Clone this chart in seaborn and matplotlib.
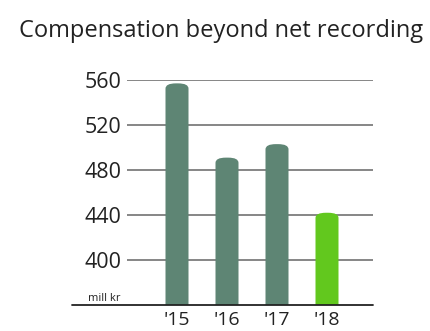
import matplotlib
matplotlib.use("Agg")
import matplotlib.pyplot as plt
from matplotlib.patches import FancyBboxPatch
import seaborn as sns
import pandas as pd

years = ["'15", "'16", "'17", "'18"]
values = [557, 491, 503, 442]
colors = ["#5e8574", "#5e8574", "#5e8574", "#62c81e"]
yticks = [400, 440, 480, 520, 560]

sns.set_theme(style="white")
plt.rcParams["font.family"] = ["Open Sans", "DejaVu Sans"]

df = pd.DataFrame({"year": years, "value": values})

fig = plt.figure(figsize=(4.30, 3.31), dpi=100)
ax = fig.add_axes([127/430, (331-305)/331, (373-127)/430, (305-80)/331])

sns.barplot(data=df, x="year", y="value", hue="year", palette=colors,
            legend=False, width=0.46, ax=ax, saturation=1, zorder=3)

ax.set_ylim(360, 560)
ax.set_xlim(-1.0, 3.92)

# rounded tops on the seaborn bars
units_per_px_x = (3.92 + 1.0) / 246
units_per_px_y = 200 / 225
for p in list(ax.patches):
    x, w = p.get_x(), p.get_width()
    top = p.get_y() + p.get_height()
    fc = p.get_facecolor()
    p.set_visible(False)
    fb = FancyBboxPatch((x, 340), w, top - 340,
                        boxstyle="round,pad=0,rounding_size=%f" % (w / 2 * 0.9),
                        mutation_aspect=units_per_px_y / units_per_px_x * 0.5,
                        facecolor=fc, edgecolor="none", zorder=3)
    ax.add_patch(fb)

ax.set_yticks(yticks)
ax.set_yticklabels([str(v) for v in yticks], fontsize=15.5, color="#222222")
ax.tick_params(axis="y", length=0, pad=4)
ax.tick_params(axis="x", length=0, pad=4, labelsize=14, labelcolor="#222222")
ax.yaxis.grid(True, color="#666666", linewidth=1.1, zorder=0)
ax.set_axisbelow(True)
for s in ax.spines.values():
    s.set_visible(False)
ax.set_xlabel("")
ax.set_ylabel("")

ax.axhline(360, xmin=-(127-72)/(373-127), xmax=1, color="#222222",
           linewidth=1.3, clip_on=False, zorder=4)
ax.text(-0.028, 363.6, "mill kr", transform=ax.get_yaxis_transform(),
        ha="right", va="baseline", fontsize=8, color="#222222")

fig.text(221.5/430, 1 - 37/331, "Compensation beyond net recording",
         ha="center", va="baseline", fontsize=17, color="#222222")

fig.savefig("out.png", dpi=100)
